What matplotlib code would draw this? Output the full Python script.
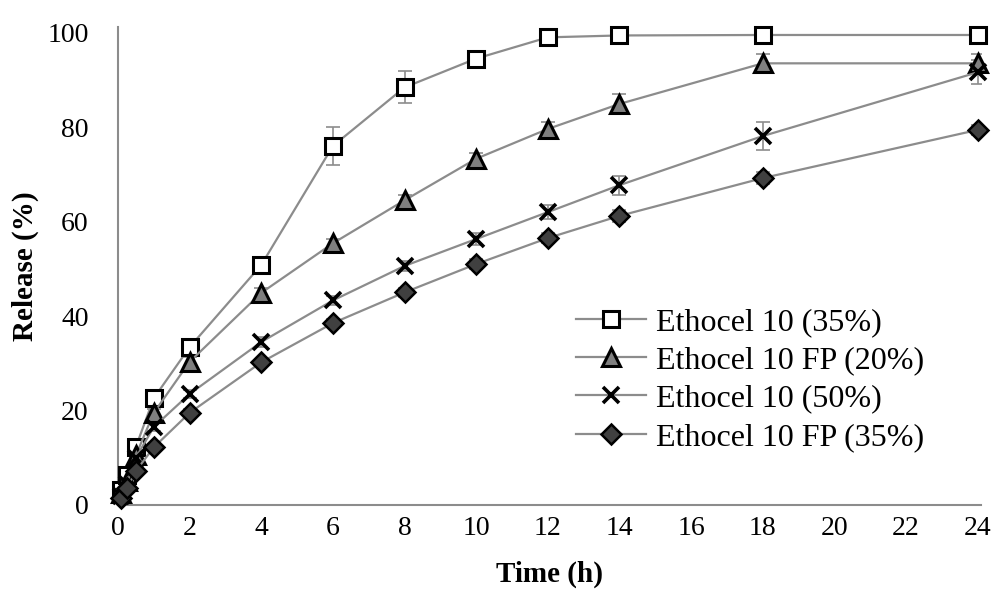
import numpy as np
import matplotlib.pyplot as plt

plt.rcParams['font.family'] = ['Liberation Serif', 'DejaVu Serif']

# sampling times (h)
time_h = [0.083, 0.25, 0.5, 1, 2, 4, 6, 8, 10, 12, 14, 18, 24]

# cumulative release (%) for each formulation
eth10_35 = [3.2, 6.3, 12.3, 22.6, 33.4, 50.8, 76.0, 88.4, 94.5, 99.0, 99.4, 99.5, 99.5]
eth10fp_20 = [2.5, 5.0, 10.5, 19.5, 30.3, 44.9, 55.4, 64.5, 73.3, 79.6, 84.9, 93.5, 93.5]
eth10_50 = [2.0, 4.5, 10.0, 16.5, 23.5, 34.5, 43.3, 50.6, 56.3, 62.0, 67.7, 78.1, 91.6]
eth10fp_35 = [1.5, 3.5, 7.2, 12.2, 19.5, 30.2, 38.5, 45.0, 51.0, 56.5, 61.2, 69.2, 79.4]

# standard deviations
sd_eth10_35 = [0.5, 0.8, 1.0, 1.0, 1.2, 1.0, 4.0, 3.4, 1.0, 0.6, 0.5, 0.5, 0.5]
sd_eth10fp_20 = [0.3, 0.5, 0.6, 0.8, 1.0, 1.0, 1.0, 1.2, 1.2, 1.5, 2.0, 2.0, 2.0]
sd_eth10_50 = [0.3, 0.5, 0.6, 0.8, 0.8, 1.0, 1.0, 1.0, 1.2, 1.5, 2.0, 3.0, 2.5]
sd_eth10fp_35 = [0.3, 0.4, 0.5, 0.6, 0.8, 0.8, 0.8, 1.0, 1.0, 1.0, 1.2, 1.2, 1.0]

labels = ['Ethocel 10 (35%)', 'Ethocel 10 FP (20%)', 'Ethocel 10 (50%)', 'Ethocel 10 FP (35%)']

fig = plt.figure(figsize=(9.98, 5.99), dpi=100)
ax = fig.add_axes([0.1182, 0.157, 0.865, 0.798])

series = [
    (eth10_35, sd_eth10_35, dict(marker='s', mfc='white', mec='black', ms=12, mew=2.2)),
    (eth10fp_20, sd_eth10fp_20, dict(marker='^', mfc='#7f7f7f', mec='black', ms=13, mew=2.2)),
    (eth10_50, sd_eth10_50, dict(marker='x', mfc='black', mec='black', ms=12, mew=2.6)),
    (eth10fp_35, sd_eth10fp_35, dict(marker='D', mfc='#404040', mec='black', ms=10, mew=1.8)),
]

for (vals, sd, style), lab in zip(series, labels):
    ax.errorbar(time_h, vals, yerr=sd, fmt='none', ecolor='#8c8c8c',
                elinewidth=1.2, capsize=5, capthick=1.2, zorder=2)
    ax.plot(time_h, vals, color='#8c8c8c', lw=1.6, label=lab, zorder=3,
            clip_on=False, **style)

ax.set_xlim(0, 24.1)
ax.set_ylim(0, 101.2)
ax.set_xticks(np.arange(0, 25, 2))
ax.set_yticks(np.arange(0, 101, 20))
ax.tick_params(length=0, labelsize=20)
ax.tick_params(axis='y', pad=21)
ax.tick_params(axis='x', pad=8)

for s in ['top', 'right']:
    ax.spines[s].set_visible(False)
for s in ['left', 'bottom']:
    ax.spines[s].set_color('#8c8c8c')
    ax.spines[s].set_linewidth(1.5)

ax.set_xlabel('Time (h)', fontsize=21, fontweight='bold', labelpad=14)
ax.set_ylabel('Release (%)', fontsize=21, fontweight='bold', labelpad=6)

ax.legend(loc='upper left', bbox_to_anchor=(0.561, 0.513), bbox_transform=fig.transFigure,
          frameon=False, fontsize=23, handlelength=2.2, handletextpad=0.3,
          labelspacing=0.28, borderpad=0)

fig.savefig('out.png', dpi=100)
